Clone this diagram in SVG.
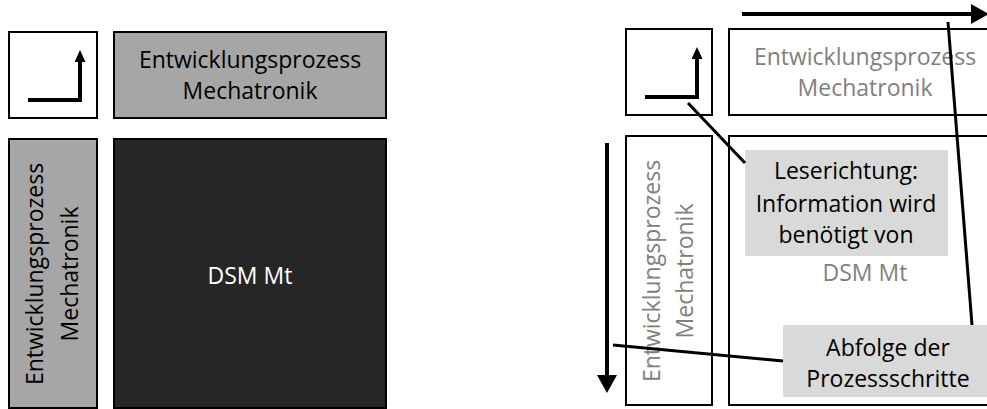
<svg xmlns="http://www.w3.org/2000/svg" width="987" height="409" viewBox="0 0 987 409">
  <style>
    .box { stroke: #000; stroke-width: 2; }
    .white { fill: #fff; }
    .grey { fill: #a6a6a6; }
    .dark { fill: #262626; }
    .note { fill: #d9d9d9; stroke: none; }
    text { font-family: "Open Sans", "Liberation Sans", sans-serif; font-size: 23px; text-anchor: middle; }
    .t-black { fill: #000; }
    .t-white { fill: #fff; }
    .t-grey { fill: #808080; }
    .arrow { fill: none; stroke: #000; stroke-width: 4; }
    .link { fill: none; stroke: #000; stroke-width: 3; }
  </style>
  <defs>
    <marker id="headSmall" markerUnits="userSpaceOnUse" markerWidth="12" markerHeight="12" refX="0" refY="5.5" orient="auto">
      <path d="M0,0 L12,5.5 L0,11 Z" fill="#000"/>
    </marker>
    <marker id="headLarge" markerUnits="userSpaceOnUse" markerWidth="19" markerHeight="21" refX="0" refY="10" orient="auto">
      <path d="M0,0 L18,10 L0,20 Z" fill="#000"/>
    </marker>
  </defs>
  <rect width="987" height="409" fill="#fff"/>

  <!-- Left matrix: filled variant -->
  <g id="left-corner">
    <rect class="box white" x="9" y="32" width="88" height="86"/>
    <path class="arrow" d="M28 100 H80 V62" marker-end="url(#headSmall)"/>
  </g>
  <g id="left-header">
    <rect class="box grey" x="114" y="32" width="272" height="86"/>
    <text class="t-black" x="250" y="68">Entwicklungsprozess</text>
    <text class="t-black" x="250" y="99">Mechatronik</text>
  </g>
  <g id="left-column">
    <rect class="box grey" x="9" y="139" width="88" height="269"/>
    <g transform="translate(53,274) rotate(-90)">
      <text class="t-black" x="0" y="-10">Entwicklungsprozess</text>
      <text class="t-black" x="0" y="25">Mechatronik</text>
    </g>
  </g>
  <g id="left-dsm">
    <rect class="box dark" x="114" y="139" width="272" height="269"/>
    <text class="t-white" x="250" y="284">DSM Mt</text>
  </g>

  <!-- Right matrix: outline variant with reading hints -->
  <g id="right-corner">
    <rect class="box white" x="626" y="29" width="86" height="86"/>
    <path class="arrow" d="M645 97 H697 V59" marker-end="url(#headSmall)"/>
  </g>
  <g id="right-header">
    <rect class="box white" x="729" y="29" width="272" height="86"/>
    <text class="t-grey" x="865" y="65">Entwicklungsprozess</text>
    <text class="t-grey" x="865" y="96">Mechatronik</text>
  </g>
  <g id="right-column">
    <rect class="box white" x="626" y="136" width="86" height="269"/>
    <g transform="translate(669,271) rotate(-90)">
      <text class="t-grey" x="0" y="-9">Entwicklungsprozess</text>
      <text class="t-grey" x="0" y="24">Mechatronik</text>
    </g>
  </g>
  <g id="right-dsm">
    <rect class="box white" x="729" y="136" width="272" height="269"/>
    <text class="t-grey" x="865" y="281">DSM Mt</text>
  </g>
  <g id="note-reading">
    <rect class="note" x="745" y="150" width="203" height="106"/>
    <text class="t-black" x="846" y="179">Leserichtung:</text>
    <text class="t-black" x="846" y="212">Information wird</text>
    <text class="t-black" x="846" y="243">benötigt von</text>
  </g>
  <g id="note-sequence">
    <rect class="note" x="783" y="325" width="212" height="72"/>
    <text class="t-black" x="888" y="356">Abfolge der</text>
    <text class="t-black" x="888" y="387">Prozessschritte</text>
  </g>

  <!-- Direction arrows and callout leaders -->
  <g id="connectors">
    <path class="arrow" d="M742 14 H971" marker-end="url(#headLarge)"/>
    <path class="arrow" d="M607 143 V375" marker-end="url(#headLarge)"/>
    <path class="link" d="M688 103 L745 163"/>
    <path class="link" d="M948 22 L972 325"/>
    <path class="link" d="M613 345 L783 361"/>
  </g>
</svg>
